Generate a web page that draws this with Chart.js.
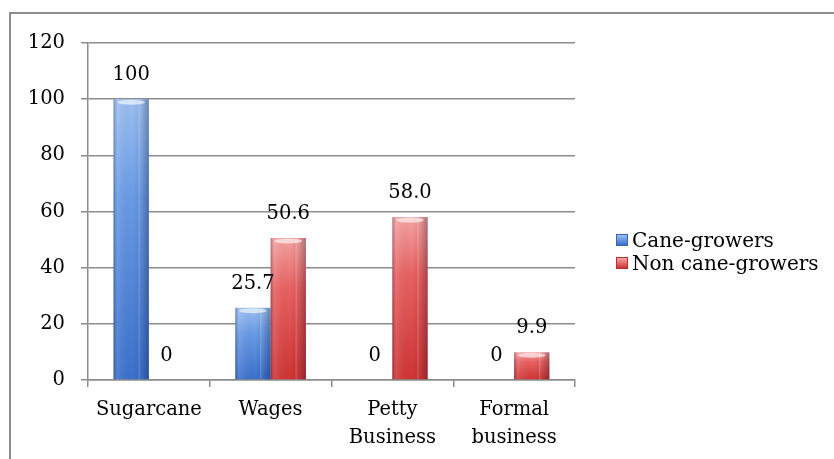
<!DOCTYPE html>
<html>
<head>
<meta charset="utf-8">
<script src="https://cdn.jsdelivr.net/npm/chart.js@4/dist/chart.umd.min.js"></script>
<style>
  html, body { margin: 0; padding: 0; background: #fff; }
  #wrap { position: relative; width: 834px; height: 459px; overflow: hidden; }
  #frame { position: absolute; left: 9px; top: 12px; right: -5px; bottom: -5px;
    border-top: 2px solid #8c8c8c; border-left: 2px solid #8c8c8c; pointer-events: none; }
  #legend { position: absolute; left: 616px; top: 228px; font-family: "DejaVu Serif", serif;
    font-size: 20px; color: #000; }
  .item { display: flex; align-items: center; height: 23px; white-space: nowrap; }
  .box { width: 12px; height: 12px; margin-right: 4px; box-sizing: border-box; }
</style>
</head>
<body>
<div id="wrap">
  <canvas id="chart" width="834" height="459"></canvas>
  <div id="frame"></div>
  <div id="legend"></div>
</div>
<script>
const categories = ['Sugarcane', 'Wages', ['Petty', 'Business'], ['Formal', 'business']];
const caneGrowers = [100, 25.7, 0, 0];
const nonCaneGrowers = [0, 50.6, 58.0, 9.9];
const caneLabels = ['100', '25.7', '0', '0'];
const nonCaneLabels = ['0', '50.6', '58.0', '9.9'];
const yTicks = [0, 20, 40, 60, 80, 100, 120];

const FONT = { family: '"DejaVu Serif", serif', size: 19.5 };

const palette = {
  blue: { top: '#9cc0f3', mid: '#6a9be6', bottom: '#3b70cc', edge: '#3565b8' },
  red:  { top: '#f6a3a3', mid: '#e96262', bottom: '#cf3434', edge: '#b83030' }
};

function barFill(colors) {
  return function(ctx) {
    const chart = ctx.chart;
    if (!chart.chartArea || ctx.type !== 'data') return colors.mid;
    const y = chart.scales.y;
    const top = y.getPixelForValue(ctx.raw);
    const base = y.getPixelForValue(0);
    if (base - top < 2) return colors.mid;
    const g = chart.ctx.createLinearGradient(0, top, 0, base);
    g.addColorStop(0, colors.top);
    g.addColorStop(0.35, colors.mid);
    g.addColorStop(1, colors.bottom);
    return g;
  };
}

// soft cylinder shading + value labels above the bars
const barDecor = {
  id: 'barDecor',
  afterDatasetsDraw(chart) {
    const ctx = chart.ctx;
    const sets = [caneLabels, nonCaneLabels];
    chart.data.datasets.forEach((ds, di) => {
      const meta = chart.getDatasetMeta(di);
      meta.data.forEach((bar, i) => {
        const w = bar.width;
        const left = bar.x - w / 2;
        const h = bar.base - bar.y;
        if (h > 2) {
          ctx.save();
          const g = ctx.createLinearGradient(left, 0, left + w, 0);
          g.addColorStop(0, 'rgba(0,0,40,0.30)');
          g.addColorStop(0.12, 'rgba(255,255,255,0.10)');
          g.addColorStop(0.55, 'rgba(0,0,0,0)');
          g.addColorStop(0.68, 'rgba(0,0,0,0.06)');
          g.addColorStop(0.72, 'rgba(255,255,255,0.18)');
          g.addColorStop(0.78, 'rgba(0,0,0,0.05)');
          g.addColorStop(1, 'rgba(0,0,40,0.30)');
          ctx.fillStyle = g;
          ctx.fillRect(left, bar.y, w, h);
          ctx.fillStyle = 'rgba(255,255,255,0.6)';
          ctx.beginPath();
          ctx.ellipse(bar.x, bar.y + 3, w / 2 - 4, 2.5, 0, 0, Math.PI * 2);
          ctx.fill();
          ctx.restore();
        }
        ctx.save();
        ctx.font = FONT.size + 'px ' + FONT.family;
        ctx.fillStyle = '#000';
        ctx.textAlign = 'center';
        ctx.textBaseline = 'middle';
        ctx.fillText(sets[di][i], bar.x, bar.y - 24);
        ctx.restore();
      });
    });
  }
};

const chart = new Chart(document.getElementById('chart').getContext('2d'), {
  type: 'bar',
  data: {
    labels: categories,
    datasets: [
      { label: 'Cane-growers', data: caneGrowers, backgroundColor: barFill(palette.blue),
        borderColor: palette.blue.edge, borderWidth: 0 },
      { label: 'Non cane-growers', data: nonCaneGrowers, backgroundColor: barFill(palette.red),
        borderColor: palette.red.edge, borderWidth: 0 }
    ]
  },
  options: {
    responsive: false,
    animation: false,
    layout: { padding: { left: 0, top: 43, right: 259, bottom: 0 } },
    datasets: { bar: { categoryPercentage: 0.58, barPercentage: 1.0 } },
    plugins: { legend: { display: false }, tooltip: { enabled: false } },
    scales: {
      x: {
        afterFit: s => { s.height = 79; },
        grid: { drawOnChartArea: false, drawTicks: true, tickLength: 7, color: '#8c8c8c', lineWidth: 1.5, offset: true },
        border: { color: '#8c8c8c', width: 1.5 },
        ticks: { font: Object.assign({ lineHeight: 1.45 }, FONT), color: '#000', padding: 9, maxRotation: 0, autoSkip: false }
      },
      y: {
        min: 0, max: 120,
        afterFit: s => { s.width = 88; },
        afterBuildTicks: s => { s.ticks = yTicks.map(v => ({ value: v })); },
        grid: { color: '#8c8c8c', lineWidth: 1.5, tickLength: 7 },
        border: { color: '#8c8c8c', width: 1.5 },
        ticks: { font: FONT, color: '#000', padding: 16 }
      }
    }
  },
  plugins: [barDecor]
});

// legend built from the chart's datasets
const legendColors = [palette.blue, palette.red];
const legendEl = document.getElementById('legend');
chart.data.datasets.forEach((ds, i) => {
  const c = legendColors[i];
  const row = document.createElement('div');
  row.className = 'item';
  const box = document.createElement('span');
  box.className = 'box';
  box.style.background = 'linear-gradient(to bottom, ' + c.top + ', ' + c.bottom + ')';
  box.style.border = '1px solid ' + c.edge;
  const txt = document.createElement('span');
  txt.textContent = ds.label;
  row.appendChild(box);
  row.appendChild(txt);
  legendEl.appendChild(row);
});
</script>
</body>
</html>
